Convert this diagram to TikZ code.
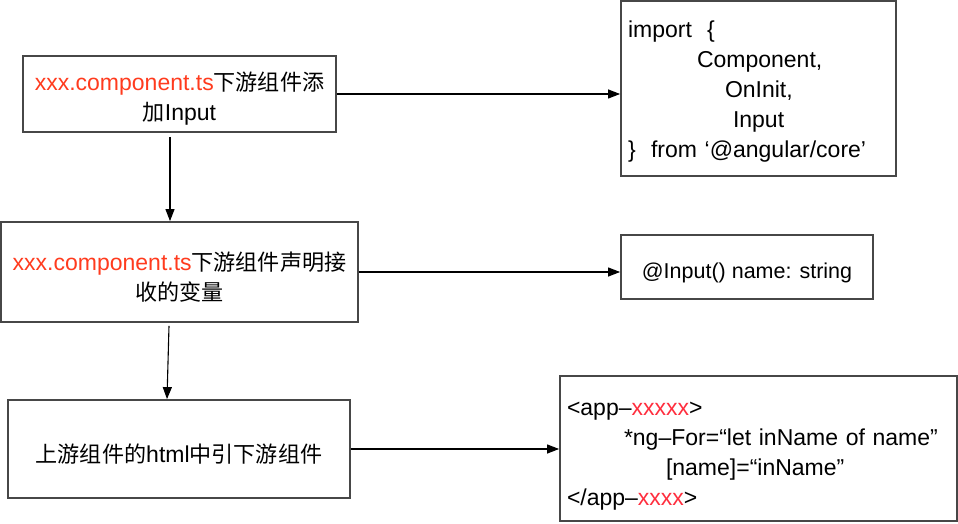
\documentclass[tikz,border=0pt]{standalone}
\usepackage{fontspec}
\setmainfont{Liberation Sans}
\newfontfamily\cjk[Scale=0.96]{Noto Sans CJK SC}
\usetikzlibrary{arrows.meta,positioning}
\definecolor{tsred}{HTML}{FF3B1E}
\definecolor{tagred}{HTML}{FF2E3E}
\newcommand\lift[1][28pt]{\rule{0pt}{#1}}
\tikzset{
  stepbox/.style = { draw=black!72, line width=1.8pt, inner sep=0pt, align=center },
  codebox/.style = { draw=black!72, line width=1.8pt, inner xsep=7pt, inner ysep=0pt, align=left },
  flow/.style    = { -{Triangle[length=12pt,width=9pt]}, line width=1.1pt }
}

\begin{document}
\begin{tikzpicture}[x=1pt,y=-1pt,font=\fontsize{23}{30}\selectfont]
  \useasboundingbox (0,0) rectangle (958,524);
  % steps on the left
  \node[stepbox, minimum width=313pt, minimum height=76pt] (s1) at (179.5,94)
    {\lift\textcolor{tsred}{xxx.component.ts}{\cjk 下游组件添}\\{\cjk 加}Input};
  \node[stepbox, minimum width=357pt, minimum height=100pt] (s2) at (179.5,272)
    {\lift\textcolor{tsred}{xxx.component.ts}{\cjk 下游组件声明接}\\{\cjk 收的变量}};
  \node[stepbox, minimum width=342pt, minimum height=98pt] (s3) at (179,449)
    {\lift{\cjk 上游组件的}html{\cjk 中引下游组件}};
  % code on the right
  \node[codebox, text width=261pt, minimum height=175pt] (c1) at (758.5,88.5)
    {\lift[22pt]import\ \ \{\\
     \hspace*{69pt}Component,\\
     \hspace*{97pt}OnInit,\\
     \hspace*{105pt}Input\\
     \}\ \ from ‘@angular/core’};
  \node[stepbox, minimum width=252pt, minimum height=64pt,
        font=\fontsize{21.5}{30}\selectfont] (c2) at (747,267)
    {\lift @Input() name: string};
  \node[codebox, text width=383pt, minimum height=145pt] (c3) at (758.5,448.5)
    {\lift<app–\textcolor{tagred}{xxxxx}>\\
     \hspace*{57pt}*ng–For=“let inName of name”\\
     \hspace*{99pt}[name]=“inName”\\
     </app–\textcolor{tagred}{xxxx}>};
  \path[flow] (s1.east) edge (s1.east -| c1.west);
  \path[flow] (s2.east) edge (s2.east -| c2.west);
  \path[flow] (s3.east) edge (s3.east -| c3.west);
  \path[flow] ([xshift=-9.5pt,yshift=-4pt]s1.south) edge ([xshift=-9.5pt]s2.north);
  \path[flow] ([xshift=-10.5pt,yshift=-3pt]s2.south) edge ([xshift=-12pt]s3.north);
\end{tikzpicture}
\end{document}
